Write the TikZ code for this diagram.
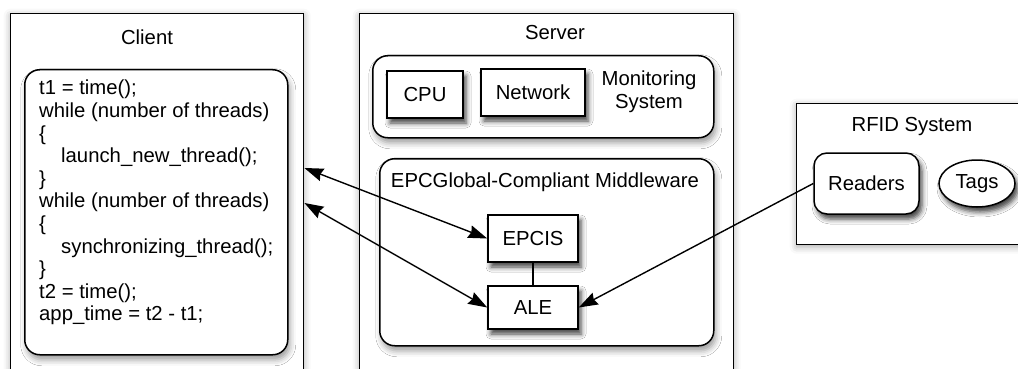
\documentclass[tikz,border=0pt]{standalone}
\usepackage{fontspec}
\setmainfont{Liberation Sans}
\usetikzlibrary{arrows.meta,shadows.blur,shapes.geometric}

\tikzset{
  txt/.style={font=\fontsize{20.3}{22.6}\selectfont, inner sep=0pt},
  outerbox/.style={draw, line width=1.4pt, fill=white, anchor=north west,
    blur shadow={shadow xshift=0pt, shadow yshift=-2pt, shadow blur radius=7pt, shadow opacity=35}},
  panel/.style={draw, line width=1.5pt, fill=white, rounded corners=15pt, anchor=north west,
    blur shadow={shadow xshift=2pt, shadow yshift=-5pt, shadow blur radius=6pt, shadow opacity=40}},
  compbox/.style={draw, line width=1.5pt, fill=white, inner sep=0pt,
    font=\fontsize{20.3}{22.6}\selectfont,
    blur shadow={shadow xshift=3pt, shadow yshift=-5pt, shadow blur radius=5pt, shadow opacity=75}},
  link/.style={line width=1.4pt},
  tip/.style={},
  twoway/.style={link, {Stealth[length=19pt,width=13pt,inset=2pt]}-{Stealth[length=19pt,width=13pt,inset=2pt]}},
  oneway/.style={link, -{Stealth[length=19pt,width=13pt,inset=2pt]}}
}

\begin{document}
\begin{tikzpicture}[x=1pt, y=-1pt]
\useasboundingbox (0,0) rectangle (1018,369);
\clip (0,0) rectangle (1018,369);

% Client side
\node[outerbox, minimum width=293pt, minimum height=380pt] (client) at (10,13) {};
\node[txt] (clientlbl) at (147,37) {Client};
\node[panel, minimum width=263pt, minimum height=285pt] (code) at (24,69) {};
\node[txt, align=left, anchor=north west] (codetxt) at (39,80) {%
t1 = time();\\
while (number of threads)\\
\{\\
\hspace*{22pt}launch\_new\_thread();\\
\}\\
while (number of threads)\\
\{\\
\hspace*{22pt}synchronizing\_thread();\\
\}\\
t2 = time();\\
app\_time = t2 - t1;};

% Server side
\node[outerbox, minimum width=374pt, minimum height=380pt] (server) at (359,13) {};
\node[txt] (serverlbl) at (555,33) {Server};

\node[panel, minimum width=341pt, minimum height=82pt] (monitor) at (372,55) {};
\node[compbox, minimum width=76pt, minimum height=47pt] (cpu) at (425,94.5) {CPU};
\node[compbox, minimum width=104pt, minimum height=47pt] (network) at (533,92.5) {Network};
\node[txt, align=center] (monlbl) at (649,92) {Monitoring\\System};

\node[panel, minimum width=334pt, minimum height=187pt] (middleware) at (379,158) {};
\node[txt] (mwlbl) at (545,182) {EPCGlobal-Compliant Middleware};
\node[compbox, minimum width=90pt, minimum height=47pt] (epcis) at (533,238.5) {EPCIS};
\node[compbox, minimum width=90pt, minimum height=43pt] (ale) at (533,307.5) {ALE};

% RFID side
\node[outerbox, minimum width=240pt, minimum height=141pt] (rfid) at (796,103) {};
\node[txt] (rfidlbl) at (912,127) {RFID System};
\node[compbox, rounded corners=13pt, minimum width=105pt, minimum height=61pt] (readers) at (866.5,183.5) {Readers};
\node[compbox, ellipse, minimum width=76pt, minimum height=47pt] (tags) at (977,183.5) {Tags};

% Connectors
\coordinate (cin1) at ([yshift=-155pt]client.north east);
\coordinate (cin2) at ([yshift=-190pt]client.north east);
\draw[twoway] (cin1) -- (epcis.west);
\draw[twoway] (cin2) -- (ale.west);
\draw[link] (epcis.south) -- (ale.north);
\draw[oneway] (readers.west) -- (ale.east);
\end{tikzpicture}
\end{document}
